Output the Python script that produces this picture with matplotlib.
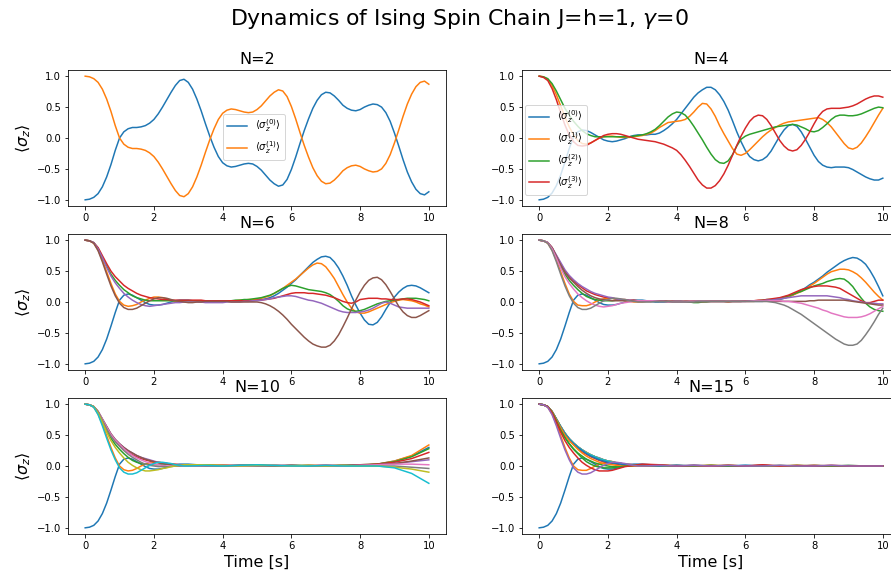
import numpy as np
import matplotlib.pyplot as plt

# time grids: step 0.125 for N=2..8; step 0.125 up to t=3, then 0.5 for N=10 and N=15
t_fine = np.linspace(0, 10, 81)
t_coarse = np.concatenate([np.linspace(0, 3, 25), np.arange(3.5, 10.01, 0.5)])

# N=2
n2_s0 = [-1.0, -0.99, -0.96, -0.9, -0.79, -0.63, -0.43, -0.2, 0.0,
         0.1, 0.15, 0.17, 0.17, 0.18, 0.2, 0.24, 0.3,
         0.39, 0.5, 0.62, 0.74, 0.85, 0.93, 0.95, 0.9,
         0.79, 0.63, 0.44, 0.23, 0.03, -0.15, -0.3, -0.4,
         -0.45, -0.47, -0.46, -0.44, -0.42, -0.41, -0.42, -0.46,
         -0.52, -0.6, -0.68, -0.74, -0.78, -0.76, -0.67, -0.51,
         -0.31, -0.09, 0.12, 0.31, 0.48, 0.61, 0.7, 0.74,
         0.73, 0.68, 0.61, 0.53, 0.48, 0.45, 0.44, 0.46,
         0.5, 0.53, 0.55, 0.54, 0.5, 0.41, 0.27, 0.08,
         -0.13, -0.35, -0.55, -0.71, -0.83, -0.9, -0.92, -0.87]
n2_s1 = [1.0, 0.99, 0.96, 0.9, 0.79, 0.63, 0.43, 0.2, 0.0,
         -0.1, -0.15, -0.17, -0.17, -0.18, -0.2, -0.24, -0.3,
         -0.39, -0.5, -0.62, -0.74, -0.85, -0.93, -0.95, -0.9,
         -0.79, -0.63, -0.44, -0.23, -0.03, 0.15, 0.3, 0.4,
         0.45, 0.47, 0.46, 0.44, 0.42, 0.41, 0.42, 0.46,
         0.52, 0.6, 0.68, 0.74, 0.78, 0.76, 0.67, 0.51,
         0.31, 0.09, -0.12, -0.31, -0.48, -0.61, -0.7, -0.74,
         -0.73, -0.68, -0.61, -0.53, -0.48, -0.45, -0.44, -0.46,
         -0.5, -0.53, -0.55, -0.54, -0.5, -0.41, -0.27, -0.08,
         0.13, 0.35, 0.55, 0.71, 0.83, 0.9, 0.92, 0.87]

# N=4
n4_s0 = [-1.0, -0.99, -0.96, -0.89, -0.77, -0.6, -0.39, -0.17, 0.02,
         0.1, 0.13, 0.12, 0.09, 0.05, 0.01, -0.03, -0.05,
         -0.06, -0.05, -0.03, -0.01, 0.02, 0.04, 0.05, 0.05,
         0.05, 0.06, 0.06, 0.08, 0.12, 0.17, 0.23, 0.3,
         0.39, 0.48, 0.57, 0.66, 0.73, 0.78, 0.82, 0.82,
         0.78, 0.7, 0.59, 0.45, 0.28, 0.1, -0.06, -0.2,
         -0.3, -0.35, -0.37, -0.35, -0.3, -0.21, -0.09, 0.03,
         0.13, 0.2, 0.22, 0.19, 0.1, -0.02, -0.15, -0.28,
         -0.38, -0.44, -0.47, -0.48, -0.47, -0.47, -0.47, -0.48,
         -0.51, -0.55, -0.59, -0.63, -0.66, -0.68, -0.68, -0.65]
n4_s1 = [1.0, 0.99, 0.95, 0.85, 0.7, 0.52, 0.34, 0.18, 0.05,
         -0.04, -0.09, -0.1, -0.08, -0.04, 0.0, 0.02, 0.03,
         0.03, 0.02, 0.01, 0.01, 0.01, 0.02, 0.03, 0.04,
         0.06, 0.08, 0.12, 0.17, 0.21, 0.25, 0.26, 0.27,
         0.28, 0.3, 0.35, 0.42, 0.5, 0.56, 0.55, 0.47,
         0.35, 0.2, 0.07, -0.05, -0.17, -0.26, -0.28, -0.25,
         -0.19, -0.12, -0.05, 0.02, 0.08, 0.13, 0.17, 0.21,
         0.24, 0.26, 0.27, 0.28, 0.29, 0.3, 0.31, 0.32,
         0.33, 0.3, 0.25, 0.18, 0.09, 0.0, -0.09, -0.16,
         -0.18, -0.15, -0.08, 0.02, 0.13, 0.25, 0.37, 0.48]
n4_s2 = [1.0, 0.99, 0.96, 0.88, 0.76, 0.62, 0.48, 0.37, 0.27,
         0.19, 0.12, 0.07, 0.04, 0.02, 0.02, 0.02, 0.02,
         0.02, 0.02, 0.02, 0.02, 0.02, 0.03, 0.04, 0.05,
         0.07, 0.1, 0.14, 0.2, 0.27, 0.34, 0.39, 0.42,
         0.41, 0.37, 0.29, 0.19, 0.08, -0.03, -0.15, -0.26,
         -0.35, -0.4, -0.41, -0.37, -0.27, -0.13, -0.02, 0.03,
         0.06, 0.08, 0.1, 0.12, 0.14, 0.16, 0.18, 0.19,
         0.2, 0.21, 0.22, 0.21, 0.18, 0.15, 0.11, 0.1,
         0.12, 0.17, 0.23, 0.3, 0.35, 0.37, 0.37, 0.36,
         0.36, 0.37, 0.39, 0.42, 0.45, 0.48, 0.5, 0.49]
n4_s3 = [1.0, 0.98, 0.93, 0.8, 0.62, 0.41, 0.21, 0.05, -0.06,
         -0.12, -0.13, -0.12, -0.08, -0.04, 0.0, 0.04, 0.06,
         0.07, 0.07, 0.06, 0.04, 0.02, 0.0, -0.02, -0.03,
         -0.04, -0.05, -0.06, -0.08, -0.1, -0.13, -0.16, -0.2,
         -0.27, -0.36, -0.46, -0.57, -0.68, -0.76, -0.81, -0.81,
         -0.77, -0.69, -0.58, -0.44, -0.28, -0.12, 0.03, 0.16,
         0.27, 0.34, 0.37, 0.36, 0.3, 0.2, 0.08, -0.04,
         -0.13, -0.19, -0.21, -0.19, -0.12, -0.02, 0.1, 0.23,
         0.35, 0.43, 0.47, 0.48, 0.48, 0.48, 0.49, 0.5,
         0.52, 0.55, 0.59, 0.63, 0.66, 0.68, 0.68, 0.66]

# N=6
n6_s0 = [-1.0, -0.99, -0.96, -0.89, -0.77, -0.6, -0.39, -0.17, 0.03,
         0.11, 0.13, 0.11, 0.07, 0.03, -0.01, -0.04, -0.05,
         -0.05, -0.04, -0.02, 0.0, 0.02, 0.03, 0.03, 0.03,
         0.02, 0.01, 0.0, 0.0, 0.0, 0.0, 0.01, 0.01,
         0.01, 0.01, 0.01, 0.01, 0.02, 0.02, 0.02, 0.03,
         0.04, 0.05, 0.07, 0.1, 0.14, 0.19, 0.24, 0.3,
         0.36, 0.43, 0.5, 0.57, 0.64, 0.69, 0.73, 0.74,
         0.72, 0.65, 0.55, 0.42, 0.27, 0.1, -0.05, -0.18,
         -0.29, -0.36, -0.37, -0.33, -0.24, -0.12, -0.01, 0.08,
         0.16, 0.22, 0.26, 0.27, 0.26, 0.23, 0.19, 0.15]
n6_s1 = [1.0, 0.99, 0.95, 0.84, 0.68, 0.49, 0.3, 0.13, 0.01,
         -0.05, -0.07, -0.06, -0.04, 0.0, 0.03, 0.06, 0.08,
         0.08, 0.07, 0.05, 0.03, 0.01, 0.0, 0.0, 0.0,
         0.01, 0.01, 0.01, 0.02, 0.02, 0.02, 0.02, 0.02,
         0.02, 0.02, 0.02, 0.03, 0.03, 0.04, 0.04, 0.05,
         0.06, 0.08, 0.1, 0.14, 0.18, 0.22, 0.27, 0.32,
         0.37, 0.43, 0.49, 0.55, 0.6, 0.63, 0.62, 0.57,
         0.48, 0.38, 0.25, 0.12, 0.0, -0.1, -0.16, -0.18,
         -0.18, -0.16, -0.13, -0.1, -0.07, -0.04, -0.01, 0.01,
         0.03, 0.04, 0.03, 0.02, 0.0, -0.03, -0.05, -0.08]
n6_s2 = [1.0, 0.99, 0.96, 0.87, 0.73, 0.58, 0.45, 0.35, 0.27,
         0.2, 0.15, 0.1, 0.07, 0.05, 0.03, 0.02, 0.02,
         0.02, 0.02, 0.02, 0.02, 0.02, 0.02, 0.02, 0.02,
         0.02, 0.02, 0.02, 0.02, 0.02, 0.02, 0.02, 0.02,
         0.02, 0.02, 0.03, 0.03, 0.04, 0.04, 0.05, 0.06,
         0.07, 0.09, 0.11, 0.14, 0.18, 0.22, 0.25, 0.27,
         0.26, 0.24, 0.22, 0.2, 0.19, 0.18, 0.17, 0.15,
         0.12, 0.07, 0.01, -0.06, -0.11, -0.14, -0.15, -0.14,
         -0.12, -0.09, -0.06, -0.03, -0.01, 0.01, 0.02, 0.03,
         0.04, 0.05, 0.06, 0.06, 0.06, 0.05, 0.04, 0.02]
n6_s3 = [1.0, 0.99, 0.96, 0.88, 0.75, 0.62, 0.5, 0.41, 0.34,
         0.27, 0.22, 0.18, 0.14, 0.11, 0.09, 0.07, 0.06,
         0.05, 0.04, 0.04, 0.03, 0.03, 0.03, 0.03, 0.03,
         0.03, 0.03, 0.03, 0.02, 0.02, 0.02, 0.02, 0.02,
         0.02, 0.02, 0.02, 0.02, 0.02, 0.02, 0.02, 0.03,
         0.03, 0.04, 0.05, 0.06, 0.08, 0.1, 0.12, 0.14,
         0.15, 0.15, 0.15, 0.14, 0.14, 0.13, 0.12, 0.11,
         0.09, 0.07, 0.04, 0.01, -0.01, -0.02, 0.0, 0.04,
         0.05, 0.06, 0.06, 0.06, 0.05, 0.05, 0.04, 0.04,
         0.04, 0.05, 0.05, 0.04, 0.02, 0.0, -0.03, -0.06]
n6_s4 = [1.0, 0.99, 0.96, 0.86, 0.72, 0.56, 0.42, 0.31, 0.22,
         0.14, 0.08, 0.03, -0.01, -0.04, -0.06, -0.07, -0.06,
         -0.05, -0.04, -0.03, -0.02, -0.01, -0.01, 0.0, 0.0,
         0.0, 0.0, 0.0, -0.01, -0.01, -0.01, -0.01, -0.01,
         0.0, 0.0, 0.0, 0.0, 0.01, 0.01, 0.02, 0.02,
         0.03, 0.04, 0.05, 0.07, 0.08, 0.09, 0.1, 0.1,
         0.09, 0.07, 0.05, 0.03, 0.02, 0.0, -0.02, -0.05,
         -0.08, -0.11, -0.14, -0.16, -0.17, -0.17, -0.17, -0.16,
         -0.15, -0.13, -0.1, -0.06, -0.02, 0.0, -0.02, -0.05,
         -0.08, -0.09, -0.1, -0.1, -0.1, -0.1, -0.1, -0.1]
n6_s5 = [1.0, 0.99, 0.95, 0.83, 0.65, 0.45, 0.26, 0.1, -0.02,
         -0.09, -0.12, -0.12, -0.1, -0.06, -0.02, 0.02, 0.05,
         0.07, 0.07, 0.06, 0.04, 0.02, 0.01, 0.0, -0.01,
         -0.01, 0.0, 0.0, 0.01, 0.01, 0.01, 0.01, 0.01,
         0.01, 0.0, 0.0, 0.0, 0.0, 0.0, 0.0, 0.0,
         -0.01, -0.03, -0.06, -0.1, -0.15, -0.21, -0.28, -0.36,
         -0.43, -0.5, -0.57, -0.63, -0.68, -0.71, -0.73, -0.73,
         -0.7, -0.63, -0.53, -0.4, -0.26, -0.11, 0.03, 0.16,
         0.27, 0.35, 0.39, 0.4, 0.36, 0.28, 0.17, 0.05,
         -0.07, -0.16, -0.22, -0.25, -0.25, -0.22, -0.18, -0.14]

# N=8
n8_s0 = [-1.0, -0.99, -0.96, -0.89, -0.77, -0.6, -0.39, -0.17, 0.03,
         0.11, 0.13, 0.11, 0.07, 0.03, -0.01, -0.04, -0.05,
         -0.05, -0.04, -0.02, 0.0, 0.02, 0.03, 0.03, 0.03,
         0.02, 0.01, 0.0, 0.0, 0.0, 0.0, 0.01, 0.01,
         0.01, 0.0, 0.0, 0.01, 0.01, 0.01, 0.01, 0.01,
         0.01, 0.01, 0.01, 0.0, 0.01, 0.01, 0.01, 0.01,
         0.01, 0.01, 0.01, 0.01, 0.02, 0.02, 0.03, 0.04,
         0.06, 0.08, 0.11, 0.15, 0.19, 0.23, 0.28, 0.32,
         0.37, 0.42, 0.48, 0.53, 0.58, 0.63, 0.67, 0.7,
         0.72, 0.71, 0.67, 0.61, 0.51, 0.39, 0.25, 0.1]
n8_s1 = [1.0, 0.99, 0.95, 0.84, 0.68, 0.49, 0.3, 0.13, 0.01,
         -0.05, -0.06, -0.06, -0.04, 0.0, 0.03, 0.05, 0.06,
         0.06, 0.05, 0.04, 0.02, 0.01, 0.0, 0.0, 0.0,
         0.01, 0.01, 0.02, 0.02, 0.02, 0.01, 0.01, 0.0,
         0.0, 0.01, 0.01, 0.01, 0.0, 0.0, 0.01, 0.01,
         0.01, 0.01, 0.01, 0.0, 0.01, 0.01, 0.01, 0.01,
         0.01, 0.01, 0.02, 0.02, 0.03, 0.03, 0.04, 0.05,
         0.07, 0.09, 0.11, 0.14, 0.17, 0.21, 0.26, 0.3,
         0.35, 0.4, 0.45, 0.49, 0.51, 0.53, 0.53, 0.52,
         0.49, 0.45, 0.39, 0.32, 0.24, 0.16, 0.09, 0.03]
n8_s2 = [1.0, 0.99, 0.96, 0.87, 0.73, 0.58, 0.45, 0.35, 0.27,
         0.2, 0.14, 0.09, 0.06, 0.04, 0.03, 0.02, 0.02,
         0.02, 0.03, 0.03, 0.03, 0.02, 0.02, 0.01, 0.01,
         0.01, 0.01, 0.01, 0.01, 0.01, 0.0, 0.0, 0.0,
         0.0, 0.0, 0.0, -0.01, -0.01, 0.0, 0.0, 0.01,
         0.01, 0.01, 0.01, 0.01, 0.01, 0.01, 0.01, 0.02,
         0.02, 0.02, 0.02, 0.03, 0.04, 0.04, 0.05, 0.06,
         0.08, 0.1, 0.12, 0.15, 0.17, 0.2, 0.23, 0.26,
         0.28, 0.3, 0.33, 0.35, 0.37, 0.38, 0.37, 0.32,
         0.25, 0.15, 0.06, -0.02, -0.08, -0.12, -0.14, -0.15]
n8_s3 = [1.0, 0.99, 0.96, 0.88, 0.75, 0.62, 0.5, 0.41, 0.34,
         0.28, 0.23, 0.18, 0.15, 0.12, 0.1, 0.08, 0.07,
         0.06, 0.05, 0.04, 0.04, 0.03, 0.03, 0.02, 0.02,
         0.02, 0.02, 0.02, 0.02, 0.02, 0.01, 0.01, 0.01,
         0.01, 0.01, 0.01, 0.01, 0.01, 0.01, 0.01, 0.01,
         0.01, 0.01, 0.01, 0.01, 0.01, 0.01, 0.01, 0.02,
         0.02, 0.02, 0.03, 0.03, 0.04, 0.05, 0.06, 0.07,
         0.09, 0.11, 0.14, 0.17, 0.2, 0.22, 0.24, 0.25,
         0.26, 0.26, 0.26, 0.25, 0.24, 0.22, 0.18, 0.14,
         0.1, 0.06, 0.02, -0.01, -0.01, 0.01, 0.03, 0.03]
n8_s4 = [1.0, 0.99, 0.96, 0.88, 0.76, 0.64, 0.52, 0.43, 0.36,
         0.3, 0.25, 0.21, 0.17, 0.14, 0.12, 0.1, 0.08,
         0.07, 0.05, 0.04, 0.03, 0.03, 0.02, 0.02, 0.01,
         0.01, 0.01, 0.01, 0.01, 0.01, 0.01, 0.01, 0.01,
         0.01, 0.01, 0.01, 0.01, 0.01, 0.01, 0.01, 0.01,
         0.01, 0.01, 0.01, 0.01, 0.01, 0.01, 0.01, 0.01,
         0.02, 0.02, 0.02, 0.02, 0.03, 0.03, 0.04, 0.05,
         0.06, 0.07, 0.08, 0.09, 0.1, 0.1, 0.1, 0.1,
         0.1, 0.1, 0.1, 0.09, 0.08, 0.07, 0.05, 0.04,
         0.02, 0.01, 0.0, -0.01, -0.02, -0.02, -0.03, -0.03]
n8_s5 = [1.0, 0.99, 0.96, 0.88, 0.74, 0.6, 0.48, 0.39, 0.32,
         0.25, 0.19, 0.14, 0.1, 0.07, 0.05, 0.04, 0.03,
         0.02, 0.02, 0.02, 0.02, 0.02, 0.02, 0.02, 0.02,
         0.02, 0.02, 0.01, 0.01, 0.01, 0.01, 0.01, 0.01,
         0.01, 0.01, 0.01, 0.01, 0.01, 0.01, 0.01, 0.01,
         0.01, 0.01, 0.01, 0.01, 0.01, 0.01, 0.01, 0.01,
         0.01, 0.01, 0.01, 0.01, 0.01, 0.01, 0.01, 0.01,
         0.01, 0.01, 0.01, 0.01, 0.01, 0.01, 0.02, 0.02,
         0.03, 0.03, 0.03, 0.03, 0.03, 0.03, 0.03, 0.02,
         0.01, 0.0, -0.01, -0.02, -0.03, -0.04, -0.05, -0.05]
n8_s6 = [1.0, 0.99, 0.96, 0.86, 0.71, 0.55, 0.41, 0.3, 0.21,
         0.13, 0.07, 0.02, -0.02, -0.05, -0.07, -0.08, -0.07,
         -0.06, -0.04, -0.02, -0.01, 0.0, 0.01, 0.02, 0.02,
         0.02, 0.02, 0.02, 0.01, 0.01, 0.0, 0.0, 0.0,
         0.0, 0.0, 0.01, 0.01, 0.01, 0.01, 0.01, 0.01,
         0.01, 0.01, 0.01, 0.01, 0.01, 0.01, 0.01, 0.01,
         0.01, 0.02, 0.02, 0.02, 0.02, 0.02, 0.02, 0.02,
         0.01, 0.01, 0.0, -0.01, -0.02, -0.04, -0.06, -0.08,
         -0.1, -0.13, -0.15, -0.18, -0.2, -0.22, -0.24, -0.25,
         -0.25, -0.25, -0.24, -0.22, -0.19, -0.15, -0.11, -0.07]
n8_s7 = [1.0, 0.99, 0.95, 0.83, 0.65, 0.45, 0.26, 0.1, -0.02,
         -0.09, -0.12, -0.12, -0.1, -0.06, -0.02, 0.02, 0.04,
         0.06, 0.06, 0.05, 0.04, 0.02, 0.01, 0.0, 0.0,
         0.0, 0.0, 0.01, 0.01, 0.01, 0.01, 0.0, 0.0,
         0.0, 0.0, 0.0, 0.0, 0.01, 0.01, 0.01, 0.01,
         0.01, 0.01, 0.01, 0.01, 0.01, 0.01, 0.01, 0.01,
         0.01, 0.01, 0.01, 0.01, 0.01, 0.0, -0.01, -0.03,
         -0.05, -0.08, -0.12, -0.16, -0.2, -0.25, -0.3, -0.35,
         -0.4, -0.45, -0.5, -0.55, -0.6, -0.64, -0.68, -0.7,
         -0.7, -0.68, -0.62, -0.53, -0.43, -0.32, -0.2, -0.1]

# N=10 (t_coarse)
n10_s0 = [-1.0, -0.99, -0.96, -0.89, -0.77, -0.6, -0.39, -0.17, 0.03,
          0.11, 0.13, 0.11, 0.07, 0.03, -0.01, -0.04, -0.05,
          -0.05, -0.04, -0.02, 0.0, 0.02, 0.03, 0.03, 0.03,
          0.01, 0.0, 0.01, 0.0, 0.01, 0.0, 0.0, 0.01, 0.0, 0.01, 0.03, 0.08, 0.16, 0.3]
n10_s1 = [1.0, 0.99, 0.95, 0.84, 0.68, 0.49, 0.3, 0.13, 0.0,
          -0.06, -0.08, -0.07, -0.04, 0.0, 0.03, 0.05, 0.06,
          0.06, 0.05, 0.04, 0.02, 0.01, 0.0, 0.0, 0.0,
          0.0, 0.02, 0.0, 0.01, 0.0, 0.01, 0.0, 0.0, 0.01, 0.01, 0.03, 0.08, 0.17, 0.34]
n10_s2 = [1.0, 0.99, 0.96, 0.87, 0.73, 0.58, 0.45, 0.35, 0.27,
          0.2, 0.14, 0.09, 0.06, 0.04, 0.03, 0.02, 0.02,
          0.02, 0.03, 0.03, 0.03, 0.02, 0.02, 0.01, 0.01,
          0.02, 0.0, 0.01, 0.02, 0.0, 0.01, 0.01, 0.0, 0.01, 0.02, 0.03, 0.07, 0.15, 0.28]
n10_s3 = [1.0, 0.99, 0.96, 0.88, 0.75, 0.62, 0.5, 0.41, 0.34,
          0.28, 0.23, 0.18, 0.15, 0.12, 0.1, 0.08, 0.07,
          0.06, 0.05, 0.04, 0.03, 0.03, 0.02, 0.02, 0.01,
          0.01, 0.01, 0.0, 0.01, 0.01, 0.0, 0.01, 0.01, 0.0, 0.02, 0.03, 0.06, 0.12, 0.22]
n10_s4 = [1.0, 0.99, 0.96, 0.88, 0.76, 0.64, 0.52, 0.43, 0.36,
          0.3, 0.25, 0.21, 0.17, 0.14, 0.12, 0.1, 0.08,
          0.06, 0.05, 0.04, 0.03, 0.02, 0.02, 0.01, 0.01,
          0.0, 0.01, 0.01, 0.0, 0.01, 0.01, 0.0, 0.0, 0.01, 0.01, 0.02, 0.04, 0.07, 0.1]
n10_s5 = [1.0, 0.99, 0.96, 0.88, 0.76, 0.64, 0.52, 0.43, 0.36,
          0.3, 0.25, 0.21, 0.17, 0.14, 0.11, 0.09, 0.07,
          0.05, 0.04, 0.03, 0.02, 0.01, 0.01, 0.0, 0.0,
          0.01, 0.0, 0.01, 0.01, 0.0, 0.01, 0.0, 0.01, 0.01, 0.01, 0.02, 0.04, 0.08, 0.13]
n10_s6 = [1.0, 0.99, 0.96, 0.88, 0.76, 0.63, 0.51, 0.42, 0.35,
          0.28, 0.22, 0.17, 0.13, 0.1, 0.07, 0.05, 0.03,
          0.02, 0.01, 0.0, 0.0, 0.0, 0.0, 0.0, 0.0,
          0.0, 0.01, 0.0, 0.0, 0.01, 0.0, 0.0, 0.01, 0.0, 0.01, 0.02, 0.03, 0.03, 0.02]
n10_s7 = [1.0, 0.99, 0.96, 0.88, 0.74, 0.6, 0.48, 0.39, 0.32,
          0.25, 0.19, 0.14, 0.1, 0.06, 0.03, 0.01, 0.0,
          -0.01, -0.01, -0.01, -0.01, 0.0, 0.0, 0.01, 0.01,
          0.0, 0.0, 0.01, 0.0, 0.0, 0.01, 0.0, 0.0, 0.01, 0.0, 0.0, 0.0, -0.02, -0.04]
n10_s8 = [1.0, 0.99, 0.96, 0.86, 0.71, 0.55, 0.41, 0.3, 0.21,
          0.13, 0.06, 0.01, -0.03, -0.06, -0.08, -0.08, -0.07,
          -0.06, -0.04, -0.03, -0.01, 0.0, 0.01, 0.02, 0.02,
          0.02, 0.01, 0.0, 0.01, 0.01, 0.0, 0.01, 0.0, 0.01, 0.0, 0.0, -0.02, -0.05, -0.1]
n10_s9 = [1.0, 0.99, 0.95, 0.83, 0.65, 0.45, 0.26, 0.1, -0.03,
          -0.1, -0.13, -0.13, -0.11, -0.07, -0.03, 0.01, 0.04,
          0.06, 0.06, 0.05, 0.04, 0.02, 0.01, 0.0, 0.0,
          0.01, 0.0, 0.01, 0.02, 0.01, 0.0, 0.0, 0.01, 0.0, 0.0, 0.0, -0.03, -0.12, -0.28]

# N=15 (t_coarse)
n15_s0 = [-1.0, -0.99, -0.96, -0.89, -0.77, -0.6, -0.39, -0.17, 0.03,
          0.11, 0.13, 0.11, 0.07, 0.03, -0.01, -0.04, -0.05,
          -0.05, -0.04, -0.02, 0.0, 0.02, 0.03, 0.03, 0.03,
          0.01, 0.0, 0.01, 0.0, 0.0, 0.01, 0.0, 0.0, 0.0, 0.01, 0.0, 0.0, 0.0, 0.0]
n15_s1 = [1.0, 0.99, 0.95, 0.84, 0.68, 0.49, 0.3, 0.13, 0.0,
          -0.06, -0.07, -0.07, -0.04, 0.0, 0.03, 0.05, 0.06,
          0.06, 0.05, 0.04, 0.02, 0.01, 0.0, 0.0, 0.0,
          0.01, 0.0, 0.0, 0.01, 0.0, 0.0, 0.01, 0.0, 0.0, 0.0, 0.0, 0.01, 0.0, 0.0]
n15_s2 = [1.0, 0.99, 0.96, 0.87, 0.73, 0.58, 0.46, 0.36, 0.28,
          0.21, 0.16, 0.11, 0.08, 0.05, 0.03, 0.01, 0.0,
          -0.01, -0.01, -0.01, 0.0, 0.0, 0.01, 0.01, 0.01,
          0.0, 0.01, 0.0, 0.0, 0.01, 0.0, 0.0, 0.0, 0.01, 0.0, 0.0, 0.0, 0.0, 0.0]
n15_s3 = [1.0, 0.99, 0.96, 0.88, 0.75, 0.62, 0.51, 0.42, 0.35,
          0.29, 0.23, 0.19, 0.15, 0.12, 0.09, 0.07, 0.05,
          0.04, 0.03, 0.02, 0.01, 0.0, 0.0, 0.0, 0.0,
          0.01, 0.0, 0.0, 0.01, 0.0, 0.0, 0.01, 0.0, 0.0, 0.0, 0.0, 0.0, 0.0, 0.0]
n15_s4 = [1.0, 0.99, 0.96, 0.88, 0.76, 0.64, 0.53, 0.44, 0.37,
          0.31, 0.26, 0.21, 0.18, 0.15, 0.12, 0.1, 0.08,
          0.06, 0.05, 0.04, 0.03, 0.02, 0.02, 0.01, 0.01,
          0.0, 0.01, 0.0, 0.0, 0.0, 0.01, 0.0, 0.0, 0.0, 0.0, 0.0, 0.0, 0.0, 0.0]
n15_s5 = [1.0, 0.99, 0.96, 0.88, 0.76, 0.64, 0.53, 0.44, 0.37,
          0.31, 0.26, 0.22, 0.18, 0.15, 0.12, 0.1, 0.08,
          0.07, 0.05, 0.04, 0.03, 0.02, 0.02, 0.01, 0.01,
          0.01, 0.0, 0.0, 0.0, 0.01, 0.0, 0.0, 0.0, 0.0, 0.01, 0.0, 0.0, 0.0, 0.0]
n15_s6 = [1.0, 0.99, 0.96, 0.88, 0.76, 0.64, 0.53, 0.44, 0.37,
          0.31, 0.26, 0.22, 0.18, 0.15, 0.13, 0.1, 0.08,
          0.07, 0.05, 0.04, 0.03, 0.03, 0.02, 0.01, 0.01,
          0.0, 0.0, 0.01, 0.0, 0.0, 0.0, 0.0, 0.01, 0.0, 0.0, 0.0, 0.0, 0.0, 0.0]
n15_s7 = [1.0, 0.99, 0.96, 0.88, 0.76, 0.64, 0.53, 0.44, 0.37,
          0.31, 0.26, 0.22, 0.18, 0.15, 0.13, 0.1, 0.08,
          0.07, 0.05, 0.04, 0.03, 0.03, 0.02, 0.01, 0.01,
          0.0, 0.01, 0.0, 0.0, 0.0, 0.0, 0.01, 0.0, 0.0, 0.0, 0.01, 0.0, 0.0, 0.0]
n15_s8 = [1.0, 0.99, 0.96, 0.88, 0.76, 0.64, 0.53, 0.44, 0.37,
          0.31, 0.26, 0.22, 0.18, 0.15, 0.12, 0.1, 0.08,
          0.07, 0.05, 0.04, 0.03, 0.02, 0.02, 0.01, 0.01,
          0.01, 0.0, 0.0, 0.01, 0.0, 0.0, 0.0, 0.0, 0.01, 0.0, 0.0, 0.0, 0.0, 0.0]
n15_s9 = [1.0, 0.99, 0.96, 0.88, 0.76, 0.64, 0.53, 0.44, 0.37,
          0.31, 0.26, 0.21, 0.18, 0.15, 0.12, 0.1, 0.08,
          0.06, 0.05, 0.04, 0.03, 0.02, 0.01, 0.01, 0.0,
          0.0, 0.0, 0.01, 0.0, 0.0, 0.01, 0.0, 0.0, 0.0, 0.0, 0.0, 0.01, 0.0, 0.0]
n15_s10 = [1.0, 0.99, 0.96, 0.88, 0.76, 0.63, 0.52, 0.43, 0.36,
           0.3, 0.25, 0.2, 0.16, 0.13, 0.1, 0.08, 0.06,
           0.05, 0.04, 0.03, 0.02, 0.01, 0.01, 0.0, 0.0,
           0.0, 0.01, 0.0, 0.0, 0.0, 0.0, 0.01, 0.0, 0.0, 0.0, 0.0, 0.0, 0.0, 0.0]
n15_s11 = [1.0, 0.99, 0.96, 0.88, 0.75, 0.62, 0.5, 0.41, 0.34,
           0.27, 0.21, 0.16, 0.12, 0.09, 0.06, 0.04, 0.03,
           0.02, 0.01, 0.0, 0.0, 0.0, 0.0, 0.0, 0.0,
           0.01, 0.0, 0.0, 0.0, 0.01, 0.0, 0.0, 0.0, 0.0, 0.01, 0.0, 0.0, 0.0, 0.0]
n15_s12 = [1.0, 0.99, 0.96, 0.87, 0.73, 0.58, 0.46, 0.36, 0.27,
           0.2, 0.13, 0.07, 0.03, 0.0, -0.02, -0.03, -0.03,
           -0.03, -0.02, -0.01, 0.0, 0.0, 0.01, 0.01, 0.01,
           0.01, 0.0, 0.0, 0.01, 0.0, 0.0, 0.0, 0.01, 0.0, 0.0, 0.0, 0.0, 0.0, 0.0]
n15_s13 = [1.0, 0.99, 0.96, 0.86, 0.71, 0.55, 0.41, 0.3, 0.21,
           0.13, 0.06, 0.01, -0.03, -0.06, -0.08, -0.08, -0.08,
           -0.07, -0.05, -0.03, -0.01, 0.0, 0.01, 0.02, 0.03,
           0.02, 0.0, 0.01, 0.0, 0.01, 0.0, 0.02, 0.0, 0.01, 0.0, 0.01, 0.0, 0.0, 0.0]
n15_s14 = [1.0, 0.99, 0.95, 0.83, 0.65, 0.45, 0.26, 0.1, -0.03,
           -0.1, -0.13, -0.13, -0.11, -0.07, -0.03, 0.01, 0.04,
           0.06, 0.06, 0.05, 0.04, 0.02, 0.01, 0.0, 0.0,
           0.01, 0.0, 0.01, 0.0, 0.01, 0.0, 0.0, 0.01, 0.0, 0.0, 0.01, 0.0, 0.0, 0.0]

panels = [
    ('N=2', t_fine, [n2_s0, n2_s1]),
    ('N=4', t_fine, [n4_s0, n4_s1, n4_s2, n4_s3]),
    ('N=6', t_fine, [n6_s0, n6_s1, n6_s2, n6_s3, n6_s4, n6_s5]),
    ('N=8', t_fine, [n8_s0, n8_s1, n8_s2, n8_s3, n8_s4, n8_s5, n8_s6, n8_s7]),
    ('N=10', t_coarse, [n10_s0, n10_s1, n10_s2, n10_s3, n10_s4,
                        n10_s5, n10_s6, n10_s7, n10_s8, n10_s9]),
    ('N=15', t_coarse, [n15_s0, n15_s1, n15_s2, n15_s3, n15_s4, n15_s5, n15_s6, n15_s7,
                        n15_s8, n15_s9, n15_s10, n15_s11, n15_s12, n15_s13, n15_s14]),
]

# axes placement in pixels (left, top) of a 891x574 canvas
W, H = 891, 574
col_left = [68, 522]
row_top = [70, 234, 398]
ax_w, ax_h = 378, 136

fig = plt.figure(figsize=(W / 72, H / 72), dpi=72)
fig.text(459 / W, 1 - 19 / H, r'Dynamics of Ising Spin Chain J=h=1, $\gamma$=0',
         fontsize=22, ha='center', va='center')

legend_pos = {0: (0.41, 0.68), 1: (0.008, 0.745)}

for i, (title, t, curves) in enumerate(panels):
    r, c = divmod(i, 2)
    ax = fig.add_axes([col_left[c] / W, 1 - (row_top[r] + ax_h) / H, ax_w / W, ax_h / H])
    for k, y in enumerate(curves):
        ax.plot(t, y, label=r'$\langle\sigma_z^{(%d)}\rangle$' % k)
    ax.set_xlim(-0.5, 10.5)
    ax.set_ylim(-1.1, 1.1)
    ax.set_xticks([0, 2, 4, 6, 8, 10])
    ax.set_yticks([-1.0, -0.5, 0.0, 0.5, 1.0])
    ax.tick_params(labelsize=10)
    ax.set_title(title, fontsize=16)
    if c == 0:
        ax.set_ylabel(r'$\langle\sigma_z\rangle$', fontsize=16)
    if r == 2:
        ax.set_xlabel('Time [s]', fontsize=16)
    if i in legend_pos:
        ax.legend(loc='upper left', bbox_to_anchor=legend_pos[i], borderaxespad=0)

fig.savefig('out.png', dpi=72)
